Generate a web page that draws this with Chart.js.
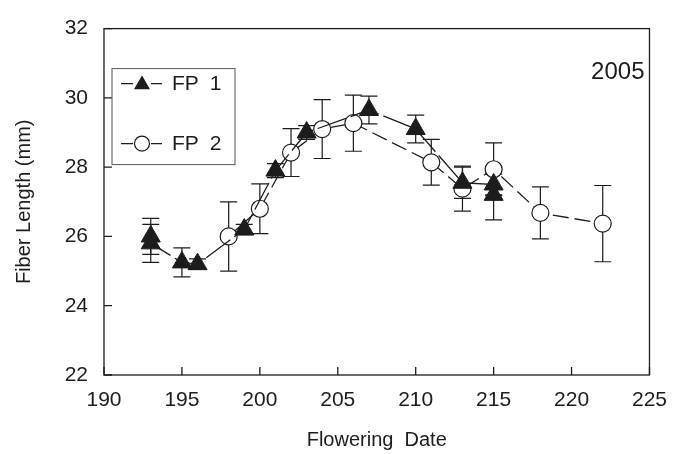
<!DOCTYPE html>
<html><head><meta charset="utf-8">
<script src="https://cdn.jsdelivr.net/npm/chart.js@4.4.1/dist/chart.umd.min.js"></script>
<style>html,body{margin:0;padding:0;background:#fff;}#wrap{width:680px;height:454px;}</style>
</head><body><div id="wrap"><canvas id="c" width="680" height="454"></canvas></div>
<script>
// ---- data ----
const fp1Dates  = [193, 193, 195, 196, 199, 201, 203, 207, 210, 213, 215, 215];
const fp1Length = [26.0, 25.8, 25.25, 25.2, 26.2, 27.9, 29.0, 29.65, 29.1, 27.55, 27.5, 27.2];
const fp1Error  = [0.52, 0.55, 0.42, 0.15, 0.15, 0.2, 0.2, 0.4, 0.4, 0.45, 0.3, 0.72];

const fp2Dates  = [198, 200, 202, 204, 206, 211, 213, 215, 218, 222];
const fp2Length = [26.0, 26.8, 28.42, 29.1, 29.27, 28.14, 27.38, 27.94, 26.68, 26.37];
const fp2Error  = [1.0, 0.72, 0.69, 0.85, 0.81, 0.66, 0.65, 0.76, 0.75, 1.1];

const xTicks = [190, 195, 200, 205, 210, 215, 220, 225];
const yTicks = [22, 24, 26, 28, 30, 32];
const seriesNames = ['FP 1', 'FP 2'];
const panelLabel = '2005';

// ---- style ----
const INK = '#1c1c1c';
const FONT = '"Liberation Sans", Arial, sans-serif';

const errorBars = {
  id: 'errorBars',
  beforeDatasetsDraw(chart) {
    const {ctx, scales: {x, y}} = chart;
    ctx.save();
    ctx.strokeStyle = INK; ctx.lineWidth = 1.2; ctx.setLineDash([]);
    chart.data.datasets.forEach(ds => {
      ds.data.forEach((p, i) => {
        const e = ds.errors[i];
        const px = x.getPixelForValue(p.x);
        const yt = y.getPixelForValue(p.y + e);
        const yb = y.getPixelForValue(p.y - e);
        const w = 8.5;
        ctx.beginPath();
        ctx.moveTo(px, yt); ctx.lineTo(px, yb);
        ctx.moveTo(px - w, yt); ctx.lineTo(px + w, yt);
        ctx.moveTo(px - w, yb); ctx.lineTo(px + w, yb);
        ctx.stroke();
      });
    });
    ctx.restore();
  }
};

const frame = {
  id: 'frame',
  afterDraw(chart) {
    const {ctx, chartArea: a, scales: {x, y}} = chart;
    ctx.save();
    ctx.strokeStyle = INK; ctx.lineWidth = 1.3; ctx.setLineDash([]);
    ctx.strokeRect(a.left, a.top, a.right - a.left, a.bottom - a.top);
    ctx.beginPath();
    xTicks.forEach(v => { const px = x.getPixelForValue(v); ctx.moveTo(px, a.bottom); ctx.lineTo(px, a.bottom - 8); });
    yTicks.forEach(v => { const py = y.getPixelForValue(v); ctx.moveTo(a.left, py); ctx.lineTo(a.left + 8, py); });
    ctx.stroke();

    // panel label
    ctx.fillStyle = INK;
    ctx.font = '24px ' + FONT;
    ctx.textAlign = 'right'; ctx.textBaseline = 'middle';
    ctx.fillText(panelLabel, a.right - 5, a.top + 44);

    // legend box
    const bx = a.left + 8, by = a.top + 40, bw = 123, bh = 96;
    ctx.lineWidth = 1; ctx.strokeStyle = '#555';
    ctx.strokeRect(bx, by, bw, bh);
    const rows = [by + 15, by + 75];
    const dsets = chart.data.datasets;
    ctx.font = '21px ' + FONT;
    ctx.textAlign = 'left';
    try { ctx.wordSpacing = '5px'; } catch (e) {}
    rows.forEach((ry, i) => {
      const ds = dsets[i];
      const cx = bx + 30;
      ctx.strokeStyle = INK; ctx.lineWidth = 1.2;
      ctx.beginPath();
      ctx.moveTo(bx + 9, ry); ctx.lineTo(cx - 9, ry);
      ctx.moveTo(cx + 9, ry); ctx.lineTo(bx + 50, ry);
      ctx.stroke();
      ctx.fillStyle = ds.pointBackgroundColor;
      ctx.strokeStyle = ds.pointBorderColor;
      Chart.helpers.drawPoint(ctx, {pointStyle: ds.pointStyle, radius: i === 0 ? 8 : 7.5, rotation: 0, borderWidth: 1.2}, cx, ry + (i === 0 ? 1 : 0));
      ctx.fillStyle = INK;
      ctx.fillText(seriesNames[i], bx + 60, ry + 1);
    });
    ctx.restore();
  }
};

new Chart(document.getElementById('c'), {
  type: 'scatter',
  data: {
    datasets: [
      {
        label: seriesNames[0],
        data: fp1Dates.map((d, i) => ({x: d, y: fp1Length[i]})),
        errors: fp1Error,
        showLine: true, borderColor: INK, borderWidth: 1.3, borderDash: [30, 5],
        pointStyle: 'triangle', pointRadius: 11, pointHoverRadius: 11,
        pointBackgroundColor: INK, pointBorderColor: INK, pointBorderWidth: 1
      },
      {
        label: seriesNames[1],
        data: fp2Dates.map((d, i) => ({x: d, y: fp2Length[i]})),
        errors: fp2Error,
        showLine: true, borderColor: INK, borderWidth: 1.3, borderDash: [16, 6],
        pointStyle: 'circle', pointRadius: 8.5, pointHoverRadius: 8.5,
        pointBackgroundColor: '#ffffff', pointBorderColor: INK, pointBorderWidth: 1.2
      }
    ]
  },
  options: {
    responsive: false, animation: false, devicePixelRatio: 1,
    layout: {padding: {left: 0, right: 22, top: 20, bottom: 0}},
    plugins: {legend: {display: false}, tooltip: {enabled: false}},
    scales: {
      x: {
        type: 'linear', min: 190, max: 225,
        afterBuildTicks: s => { s.ticks = xTicks.map(v => ({value: v})); },
        grid: {display: false, drawTicks: false}, border: {display: false},
        ticks: {font: {family: FONT, size: 21}, color: INK, padding: 13, maxRotation: 0, autoSkip: false},
        title: {display: true, text: 'Flowering  Date', font: {family: FONT, size: 20}, color: INK, padding: {top: 0, bottom: 2}},
        afterFit: s => { s.height = 79; }
      },
      y: {
        type: 'linear', min: 22, max: 32,
        afterBuildTicks: s => { s.ticks = yTicks.map(v => ({value: v})); },
        grid: {display: false, drawTicks: false}, border: {display: false},
        ticks: {font: {family: FONT, size: 21}, color: INK, padding: 16},
        title: {display: true, text: 'Fiber Length (mm)', font: {family: FONT, size: 20}, color: INK, padding: {top: 12, bottom: 0}},
        afterFit: s => { s.width = 104; }
      }
    }
  },
  plugins: [errorBars, frame]
});
</script></body></html>
